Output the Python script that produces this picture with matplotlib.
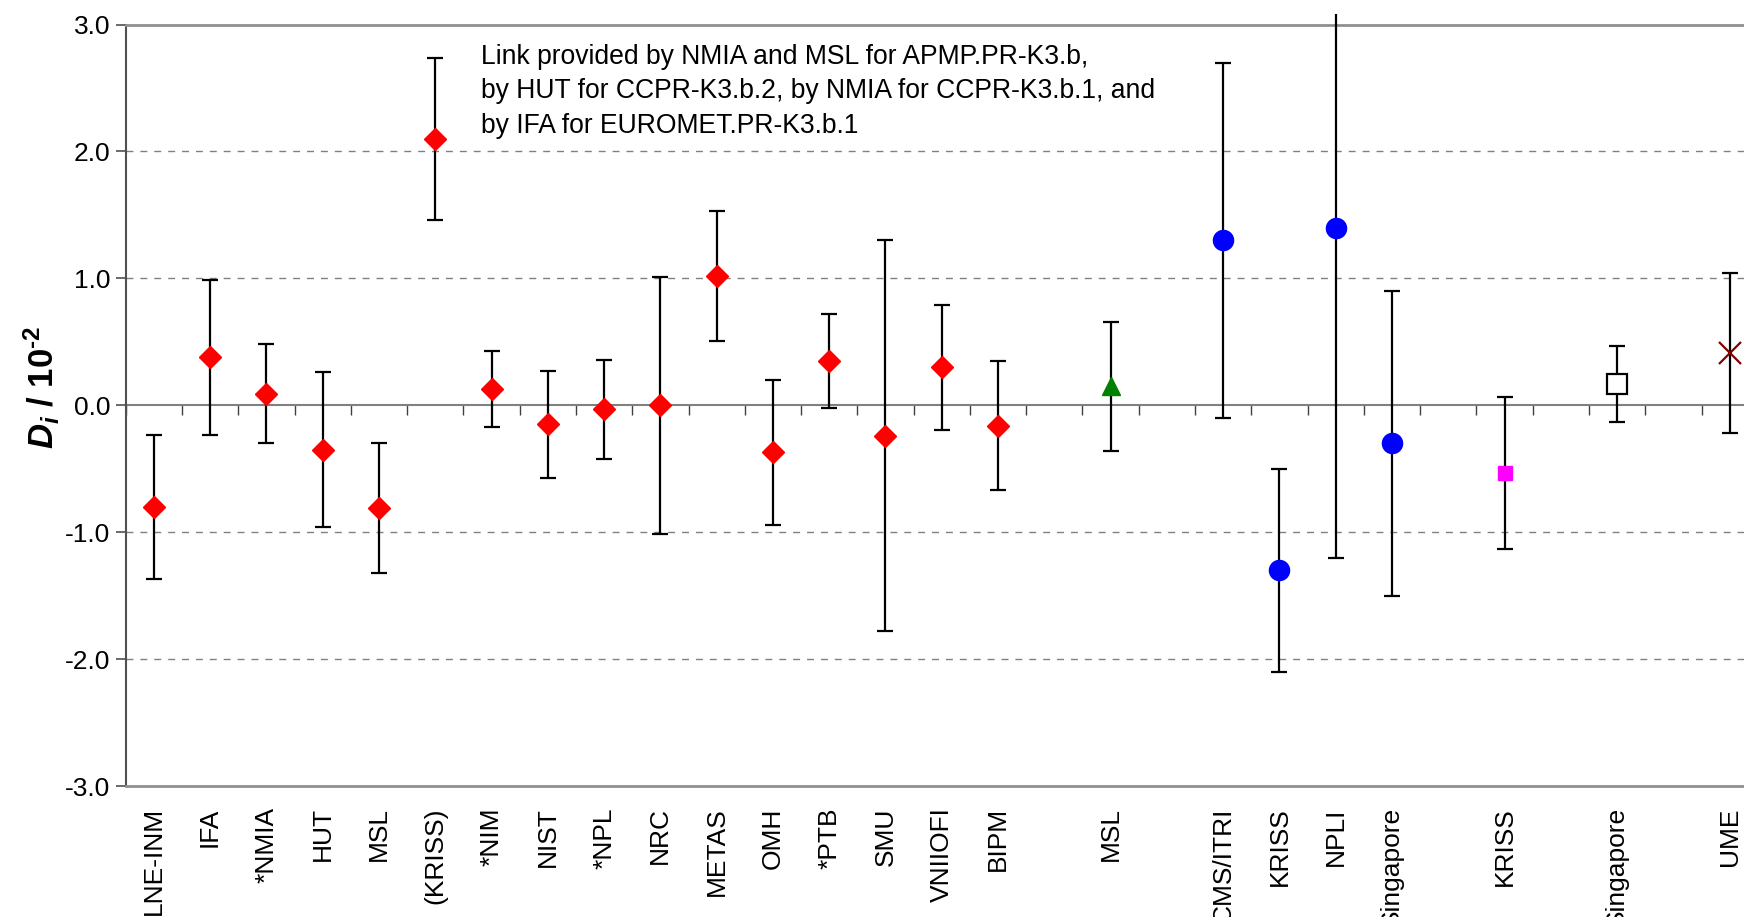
import numpy as np
import matplotlib
matplotlib.use("Agg")
import matplotlib.pyplot as plt
from matplotlib.ticker import NullFormatter
from matplotlib.transforms import Bbox, TransformedBbox

plt.rcParams['font.family'] = ['Liberation Sans', 'DejaVu Sans']
plt.rcParams['mathtext.fontset'] = 'custom'
plt.rcParams['mathtext.rm'] = 'Liberation Sans:bold'
plt.rcParams['mathtext.it'] = 'Liberation Sans:italic:bold'
plt.rcParams['mathtext.bf'] = 'Liberation Sans:bold'
plt.rcParams['mathtext.bfit'] = 'Liberation Sans:italic:bold'

# category slots along the x axis (empty strings are gaps between groups)
slots = ['LNE-INM', 'IFA', '*NMIA', 'HUT', 'MSL', '(KRISS)', '*NIM', 'NIST', '*NPL',
         'NRC', 'METAS', 'OMH', '*PTB', 'SMU', 'VNIIOFI', 'BIPM', '',
         'MSL', '',
         'CMS/ITRI', 'KRISS', 'NPLI', 'Singapore', '',
         'KRISS', '',
         'Singapore', '',
         'UME']

# CCPR-K3.b participants (red diamonds)
ccpr_idx = list(range(16))
ccpr_val = [-0.80, 0.38, 0.09, -0.35, -0.81, 2.10, 0.13, -0.15, -0.03,
            0.00, 1.02, -0.37, 0.35, -0.24, 0.30, -0.16]
ccpr_unc = [0.57, 0.61, 0.39, 0.61, 0.51, 0.64, 0.30, 0.42, 0.39,
            1.01, 0.51, 0.57, 0.37, 1.54, 0.49, 0.51]

# APMP.PR-K3.b linked via NMIA / MSL (green triangle)
apmp_idx = [17]
apmp_val = [0.15]
apmp_unc = [0.51]

# blue circles
blue_idx = [19, 20, 21, 22]
blue_val = [1.30, -1.30, 1.40, -0.30]
blue_unc = [1.40, 0.80, 2.60, 1.20]

# magenta square
mag_idx = [24]
mag_val = [-0.53]
mag_unc = [0.60]

# open square
open_idx = [26]
open_val = [0.17]
open_unc = [0.30]

# dark red cross
ume_idx = [28]
ume_val = [0.41]
ume_unc = [0.63]

note = ("Link provided by NMIA and MSL for APMP.PR-K3.b,\n"
        "by HUT for CCPR-K3.b.2, by NMIA for CCPR-K3.b.1, and\n"
        "by IFA for EUROMET.PR-K3.b.1")

W, H = 1744, 917
fig = plt.figure(figsize=(W / 100, H / 100), dpi=100)
ax_left, ax_bottom = 125.7 / W, (H - 786.3) / H
ax_w, ax_h = 30 * 56.28 / W, 761.8 / H
ax = fig.add_axes([ax_left, ax_bottom, ax_w, ax_h])

ax.set_xlim(-0.5, 29.5)
ax.set_ylim(-3.0, 3.0)

# grid
for yv in [-2, -1, 1, 2]:
    ax.axhline(yv, color='#808080', lw=1.0, ls=(0, (5, 5)), zorder=1)

err_clip = TransformedBbox(Bbox([[-0.1, -0.1], [1.2, 1.0135]]), ax.transAxes)


def draw(idx, val, unc, **mk):
    eb = ax.errorbar(idx, val, yerr=unc, fmt='none', ecolor='black',
                     elinewidth=1.6, capsize=5.8, capthick=1.6, zorder=3)
    for art in list(eb.lines[1]) + list(eb.lines[2]):
        art.set_clip_box(err_clip)
    ax.plot(idx, val, ls='none', zorder=4, **mk)


draw(ccpr_idx, ccpr_val, ccpr_unc, marker='D', ms=11.5, mfc='#FF0000', mec='#FF0000')
draw(apmp_idx, apmp_val, apmp_unc, marker='^', ms=13.5, mfc='#008000', mec='#008000')
draw(blue_idx, blue_val, blue_unc, marker='o', ms=14.5, mfc='#0000FF', mec='#0000FF')
draw(mag_idx, mag_val, mag_unc, marker='s', ms=10.5, mfc='#FF00FF', mec='#FF00FF')
draw(open_idx, open_val, open_unc, marker='s', ms=14, mfc='white', mec='black', mew=1.6)
draw(ume_idx, ume_val, ume_unc, marker='x', ms=16, mec='#800000', mew=1.6)

# zero line with category-boundary ticks pointing down
sec = ax.secondary_xaxis(0.5)
sec.set_xticks(np.arange(len(slots) + 1) - 0.5)
sec.xaxis.set_major_formatter(NullFormatter())
sec.tick_params(axis='x', direction='in', length=7, width=1.0, color='#404040')
for s in sec.spines.values():
    s.set_color('#808080')
    s.set_linewidth(1.5)

# axes frame
for s in ['top', 'bottom', 'right']:
    ax.spines[s].set_color('#909090')
    ax.spines[s].set_linewidth(2.0)
ax.spines['left'].set_color('#505050')
ax.spines['left'].set_linewidth(1.5)

ax.set_yticks(np.arange(-3, 3.01, 1.0))
ax.set_yticklabels([f"{v:.1f}" for v in np.arange(-3, 3.01, 1.0)], fontsize=19)
ax.tick_params(axis='y', direction='out', length=7, width=1.2, color='#505050', pad=4)

ax.set_xticks(range(len(slots)))
ax.set_xticklabels(slots, rotation=90, fontsize=19, va='top')
ax.tick_params(axis='x', length=0, pad=15)

ax.text((480.5 - 125.7) / (W * ax_w), 1 - (44 - 24.5) / 761.8, note,
        transform=ax.transAxes, fontsize=19.1, va='top', ha='left', linespacing=1.42)

fig.text(42 / W, 1 - 387 / H, r'$D_i$ / 10$^{\text{-2}}$', rotation=90, ha='center',
         va='center', fontsize=25, fontweight='bold')

fig.savefig('out.png', dpi=100)
